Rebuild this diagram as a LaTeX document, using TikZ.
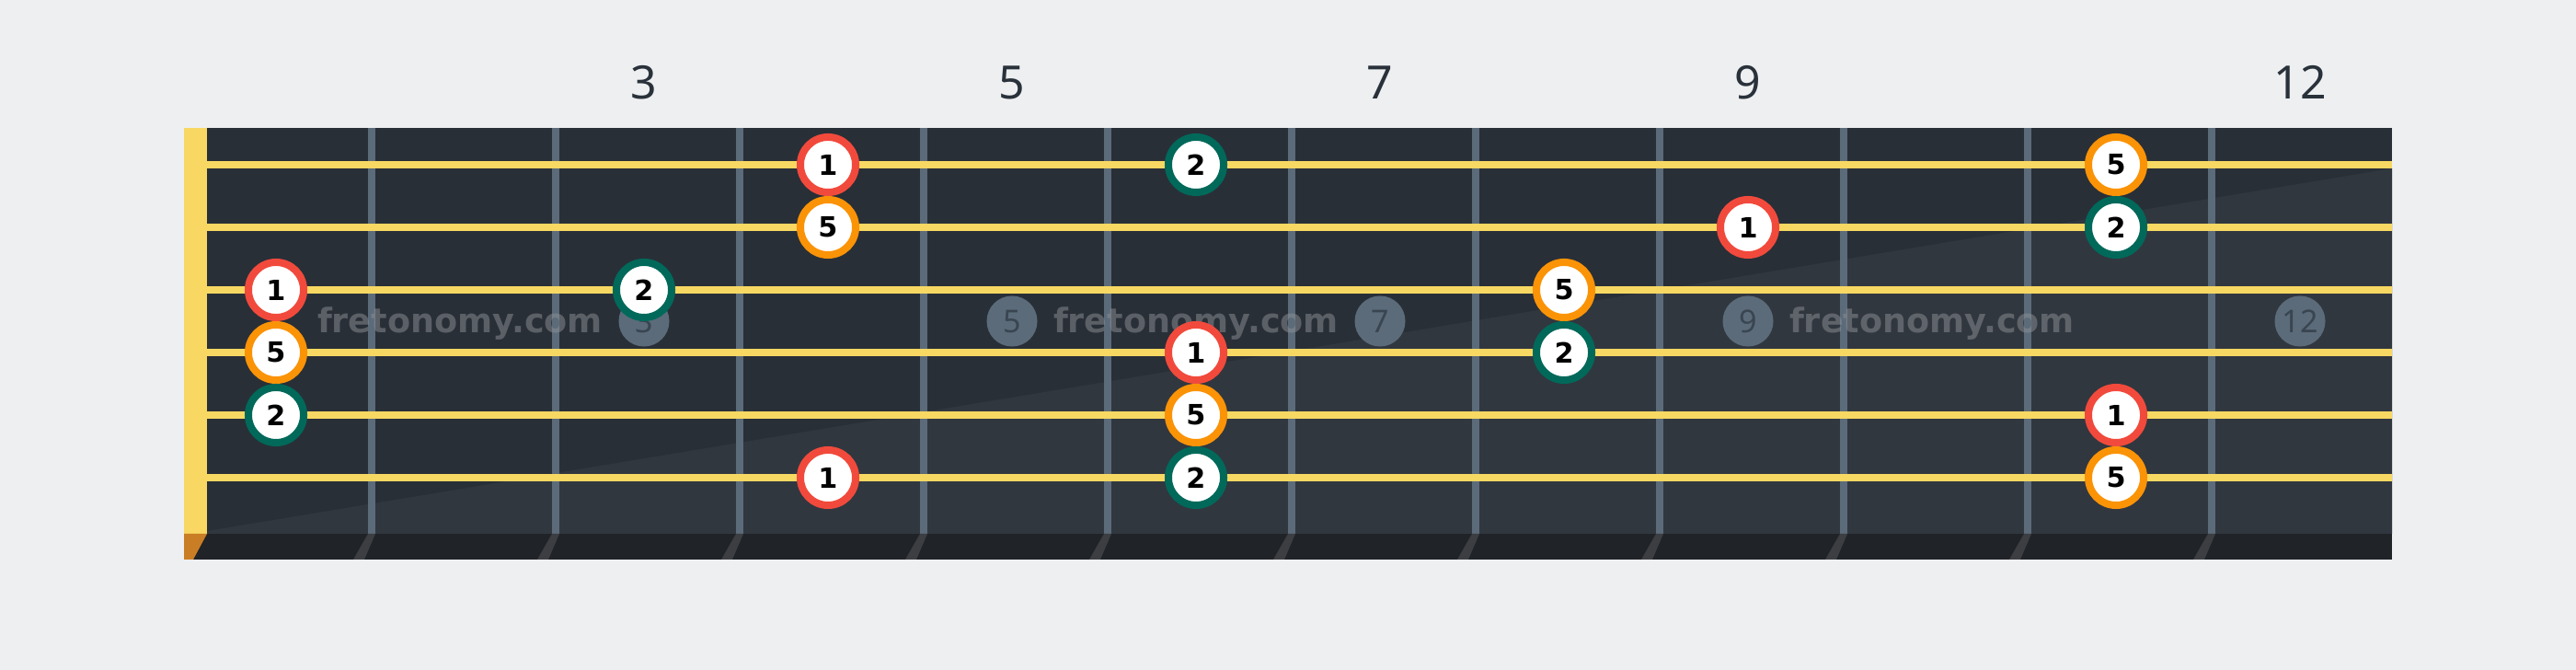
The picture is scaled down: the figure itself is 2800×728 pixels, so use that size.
\documentclass[tikz,border=0pt]{standalone}
\usepackage{fontspec}
\setmainfont{Noto Sans}
\newfontfamily\dejavu{DejaVu Sans}
\usepackage{xcolor}

\definecolor{paper}{HTML}{EEEFF1}
\definecolor{board}{HTML}{292F37}
\definecolor{boardlight}{HTML}{31373F}
\definecolor{strip}{HTML}{202327}
\definecolor{fretc}{HTML}{5B6B79}
\definecolor{frettail}{HTML}{3C3E42}
\definecolor{stringc}{HTML}{F7D862}
\definecolor{nutc}{HTML}{F8D862}
\definecolor{nutbase}{HTML}{C97E26}
\definecolor{ringred}{HTML}{F14A3C}
\definecolor{ringorange}{HTML}{FB9307}
\definecolor{ringteal}{HTML}{00695A}
\definecolor{dotc}{HTML}{5B6B7A}
\definecolor{dottext}{HTML}{394550}
\definecolor{numc}{HTML}{29313A}
\definecolor{markc}{HTML}{8D9197}

\begin{document}
\begin{tikzpicture}[x=0.01cm, y=-0.01cm,
    tone/.style={circle, fill=white, line width=0.08cm, minimum size=0.6cm,
        inner sep=0pt, font=\dejavu\bfseries\fontsize{8.6}{8.6}\selectfont},
    one/.style={tone, draw=ringred},
    two/.style={tone, draw=ringteal},
    five/.style={tone, draw=ringorange},
    inlay/.style={circle, fill=dotc, text=dottext, minimum size=0.55cm,
        inner sep=0pt, font=\fontsize{9.7}{9.7}\selectfont},
    fretnum/.style={text=numc, inner sep=0pt, font=\fontsize{14.2}{14.2}\selectfont},
    watermark/.style={text=markc, text opacity=0.5, inner sep=0pt, anchor=base,
        font=\dejavu\bfseries\fontsize{10.4}{10.4}\selectfont},
    gstring/.style={draw=stringc, line width=0.08cm}]
    \def\ya{179}
    \def\yb{247}
    \def\yc{315}
    \def\yd{383}
    \def\ye{451}
    \def\yf{519}
    \def\ym{349}
    \useasboundingbox (0,0) rectangle (2800,728);
    \fill[paper] (0,0) rectangle (2800,728);
    % board
    \fill[board] (225,139) rectangle (2600,580);
    \fill[boardlight] (225,577) -- (2600,183) -- (2600,580) -- (225,580) -- cycle;
    \fill[strip] (200,580) rectangle (2600,608);
    \fill[nutc] (200,139) rectangle (225,580);
    \fill[nutbase] (200,580) -- (225,580) -- (210,608) -- (200,608) -- cycle;
    % frets
    \foreach \k in {0,...,10} {
        \draw[fretc, line width=0.08cm] (404+200*\k,139) -- (404+200*\k,580);
        \fill[frettail] (400+200*\k,580) -- (408+200*\k,580) -- (396+200*\k,608) -- (384+200*\k,608) -- cycle;
    }
    % fret numbers
    \node[fretnum] at (700, 89.5) (F3) {3};
    \node[fretnum] at (1100, 89.5) (F5) {5};
    \node[fretnum] at (1500, 89.5) (F7) {7};
    \node[fretnum] at (1900, 89.5) (F9) {9};
    \node[fretnum] at (2500, 89.5) (F12) {12};
    % inlays
    \node[inlay] at (700, \ym) (I3) {3};
    \node[inlay] at (1100, \ym) (I5) {5};
    \node[inlay] at (1500, \ym) (I7) {7};
    \node[inlay] at (1900, \ym) (I9) {9};
    \node[inlay] at (2500, \ym) (I12) {12};
    % strings
    \coordinate (S1) at (225, \ya);
    \coordinate (S2) at (225, \yb);
    \coordinate (S3) at (225, \yc);
    \coordinate (S4) at (225, \yd);
    \coordinate (S5) at (225, \ye);
    \coordinate (S6) at (225, \yf);
    \coordinate (E1) at (2600, \ya);
    \coordinate (E2) at (2600, \yb);
    \coordinate (E3) at (2600, \yc);
    \coordinate (E4) at (2600, \yd);
    \coordinate (E5) at (2600, \ye);
    \coordinate (E6) at (2600, \yf);
    \draw[gstring] (S1) -- (E1);
    \draw[gstring] (S2) -- (E2);
    \draw[gstring] (S3) -- (E3);
    \draw[gstring] (S4) -- (E4);
    \draw[gstring] (S5) -- (E5);
    \draw[gstring] (S6) -- (E6);
    % watermark
    \node[watermark] at (500, 362) (W1) {fretonomy.com};
    \node[watermark] at (1300, 362) (W2) {fretonomy.com};
    \node[watermark] at (2100, 362) (W3) {fretonomy.com};
    % notes
    \node[one] at (900, \ya) (A1) {1};
    \node[two] at (1300, \ya) (A2) {2};
    \node[five] at (2300, \ya) (A5) {5};
    \node[five] at (900, \yb) (B5) {5};
    \node[one] at (1900, \yb) (B1) {1};
    \node[two] at (2300, \yb) (B2) {2};
    \node[one] at (300, \yc) (C1) {1};
    \node[two] at (700, \yc) (C2) {2};
    \node[five] at (1700, \yc) (C5) {5};
    \node[five] at (300, \yd) (D5) {5};
    \node[one] at (1300, \yd) (D1) {1};
    \node[two] at (1700, \yd) (D2) {2};
    \node[two] at (300, \ye) (G2) {2};
    \node[five] at (1300, \ye) (G5) {5};
    \node[one] at (2300, \ye) (G1) {1};
    \node[one] at (900, \yf) (H1) {1};
    \node[two] at (1300, \yf) (H2) {2};
    \node[five] at (2300, \yf) (H5) {5};
\end{tikzpicture}
\end{document}
